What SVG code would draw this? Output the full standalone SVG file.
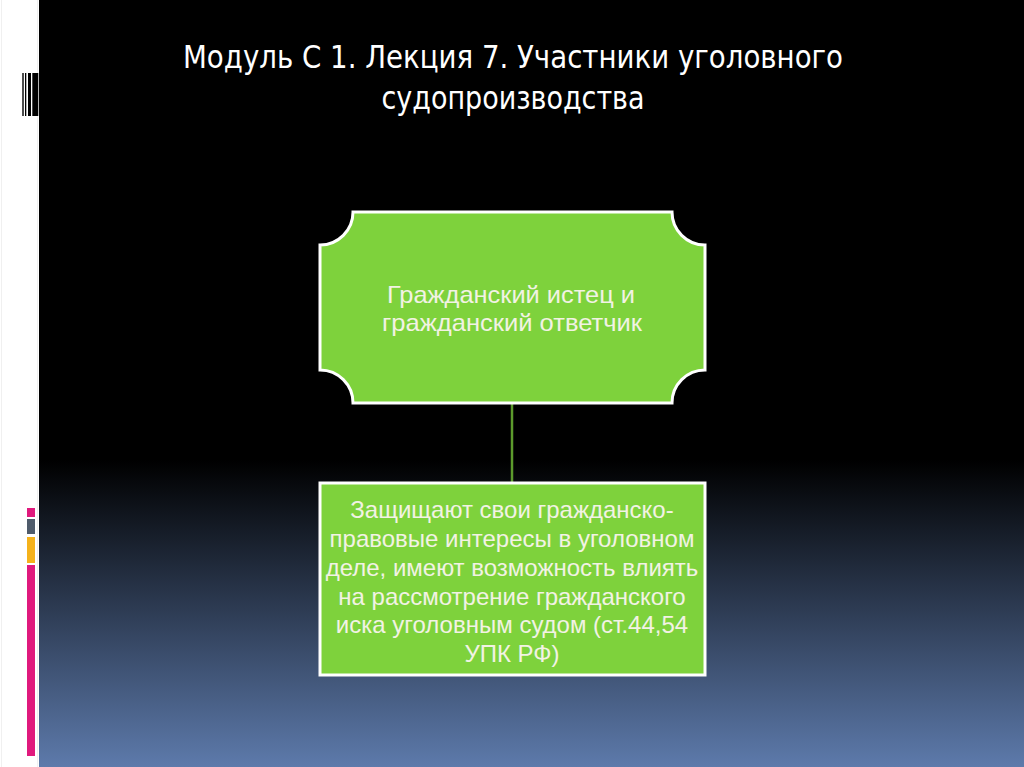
<svg xmlns="http://www.w3.org/2000/svg" width="1024" height="767" viewBox="0 0 1024 767">
<defs>
<linearGradient id="bg" x1="0" y1="0" x2="0" y2="1">
<stop offset="0" stop-color="#000000"/>
<stop offset="0.6" stop-color="#000000"/>
<stop offset="1" stop-color="#5d7aab"/>
</linearGradient>
<style>
.title{font-family:"Liberation Sans Narrow","DejaVu Sans Condensed","Liberation Sans",Arial,sans-serif;font-size:32px;fill:#ffffff;text-anchor:middle}
.lbl{font-family:"Liberation Sans",Arial,sans-serif;font-size:24px;fill:#f2f2e4;text-anchor:middle}
.box{fill:#7ed23c;stroke:#ffffff;stroke-width:3}
.bar{fill:#000000}
</style>
</defs>
<rect x="0" y="0" width="1024" height="767" fill="url(#bg)"/>
<rect x="0" y="0" width="39" height="767" fill="#ffffff"/>
<line x1="1.5" y1="0" x2="1.5" y2="767" stroke="#f0f0f0" stroke-width="1"/>
<line x1="37.5" y1="0" x2="37.5" y2="767" stroke="#f0f0f0" stroke-width="1"/>
<g id="barcode">
<rect class="bar" x="22.3" y="73" width="1.4" height="43"/>
<rect class="bar" x="25" y="73" width="1.3" height="43"/>
<rect class="bar" x="28" y="73" width="3" height="43"/>
<rect class="bar" x="32.3" y="73" width="6" height="43"/>
</g>
<g id="squares">
<rect x="27" y="508" width="8" height="9" fill="#e0197d"/>
<rect x="27" y="519" width="8" height="15" fill="#4f5b6b"/>
<rect x="27" y="537" width="8" height="26" fill="#f5b21b"/>
<rect x="27" y="565" width="8" height="191" fill="#e0197d"/>
</g>
<g id="title">
<text class="title" x="513" y="68" textLength="660" lengthAdjust="spacingAndGlyphs">Модуль С 1. Лекция 7. Участники уголовного</text>
<text class="title" x="513" y="109" textLength="263" lengthAdjust="spacingAndGlyphs">судопроизводства</text>
</g>
<g id="connectors">
<line x1="512" y1="404" x2="512" y2="482" stroke="#5c9a2c" stroke-width="2.5"/>
</g>
<g id="node1">
<path class="box" d="M353,212 L672,212 A33,33 0 0 0 705,245 L705,370 A33,33 0 0 0 672,403 L353,403 A33,33 0 0 0 320,370 L320,245 A33,33 0 0 0 353,212 Z"/>
<text class="lbl" x="511" y="303" textLength="248" lengthAdjust="spacingAndGlyphs">Гражданский истец и</text>
<text class="lbl" x="512" y="331" textLength="260" lengthAdjust="spacingAndGlyphs">гражданский ответчик</text>
</g>
<g id="node2">
<rect class="box" x="320" y="483" width="385" height="192"/>
<text class="lbl" x="512" y="518">Защищают свои гражданско-</text>
<text class="lbl" x="512" y="547">правовые интересы в уголовном</text>
<text class="lbl" x="512" y="576">деле, имеют возможность влиять</text>
<text class="lbl" x="512" y="605">на рассмотрение гражданского</text>
<text class="lbl" x="512" y="633">иска уголовным судом (ст.44,54</text>
<text class="lbl" x="512" y="662">УПК РФ)</text>
</g>
</svg>
